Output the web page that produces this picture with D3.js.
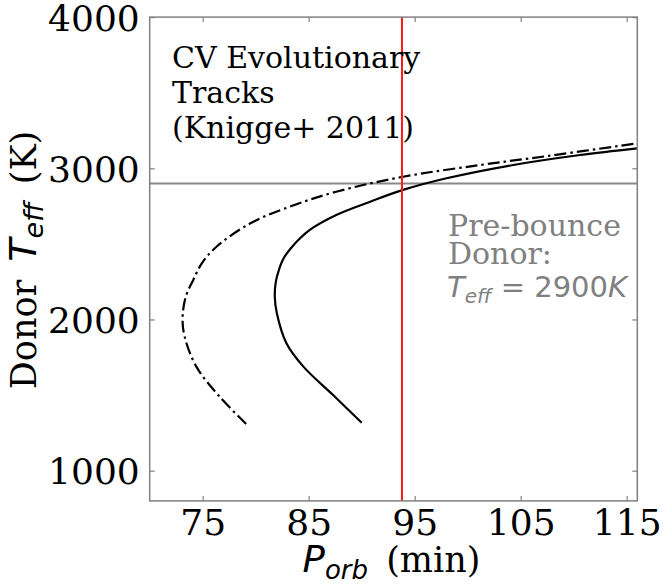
<!DOCTYPE html>
<html>
<head>
<meta charset="utf-8">
<script src="https://cdn.jsdelivr.net/npm/d3@7"></script>
<style>
  html, body { margin: 0; padding: 0; background: #fff; }
  svg { display: block; }
</style>
</head>
<body>
<div id="chart"></div>
<script>
// Knigge et al. (2011) CV evolutionary tracks: orbital period vs donor temperature
const trackStandardP = [90.0, 87.3, 84.5, 82.9, 82.0, 81.8, 81.9, 82.2, 82.6, 83.3, 85.1, 87.6, 90.8, 93.9, 98.0, 104.3, 110.6, 116.0];
const trackStandardT = [1317, 1500, 1688, 1843, 2040, 2150, 2250, 2330, 2400, 2470, 2592, 2691, 2779, 2857, 2934, 3022, 3088, 3132];

const trackOptimalP = [79.1, 76.6, 74.4, 73.3, 73.1, 73.4, 74.1, 74.9, 76.3, 79.5, 83.2, 87.6, 93.9, 101.2, 107.5, 116.0];
const trackOptimalT = [1309, 1489, 1688, 1886, 2010, 2150, 2260, 2370, 2481, 2636, 2746, 2845, 2944, 3022, 3081, 3165];

const xTicks = [75, 85, 95, 105, 115];
const yTicks = [1000, 2000, 3000, 4000];
const xDomain = [70, 116];
const yDomain = [800, 4000];

const periodLine = 93.8;     // observed orbital period (min)
const bounceTeff = 2900;     // pre-bounce donor temperature (K)

const W = 663, H = 586;
const L = 149.7, R = 637.3, T = 17.1, B = 500.9;

const svg = d3.select("#chart").append("svg")
  .attr("width", W).attr("height", H);

const x = d3.scaleLinear().domain(xDomain).range([L, R]);
const y = d3.scaleLinear().domain(yDomain).range([B, T]);

const serif = "DejaVu Serif";
const sans = "DejaVu Sans";
const spineColor = "#808080";

svg.append("defs").append("clipPath").attr("id", "plotclip")
  .append("rect").attr("x", L).attr("y", T).attr("width", R - L).attr("height", B - T);

const plot = svg.append("g").attr("clip-path", "url(#plotclip)");

// reference line at the pre-bounce temperature
plot.append("line")
  .attr("x1", L).attr("x2", R)
  .attr("y1", y(bounceTeff)).attr("y2", y(bounceTeff))
  .attr("stroke", "#888888").attr("stroke-width", 2);

// tracks
const line = d3.line()
  .x(d => x(d[0])).y(d => y(d[1]))
  .curve(d3.curveCatmullRom.alpha(0.5));

plot.append("path")
  .datum(d3.zip(trackOptimalP, trackOptimalT))
  .attr("d", line)
  .attr("fill", "none").attr("stroke", "#000")
  .attr("stroke-width", 2.2)
  .attr("stroke-dasharray", "12,4,2.5,4");

plot.append("path")
  .datum(d3.zip(trackStandardP, trackStandardT))
  .attr("d", line)
  .attr("fill", "none").attr("stroke", "#000")
  .attr("stroke-width", 2.2);

plot.append("line")
  .attr("x1", x(periodLine)).attr("x2", x(periodLine))
  .attr("y1", T).attr("y2", B)
  .attr("stroke", "#ff1a1a").attr("stroke-width", 2);

// axes with inward ticks on all four sides
const tickLen = 5;
const fmt = d3.format("d");
const styleAxis = g => {
  g.select(".domain").remove();
  g.selectAll(".tick line").attr("stroke", spineColor).attr("stroke-width", 1.2);
};

svg.append("g").attr("transform", `translate(0,${B})`)
  .call(d3.axisBottom(x).tickValues(xTicks).tickFormat(fmt).tickSizeInner(-tickLen).tickSizeOuter(0).tickPadding(7))
  .call(styleAxis)
  .call(g => g.selectAll(".tick text")
    .attr("font-family", serif).attr("font-size", 36).attr("fill", "#000").attr("dy", "0.76em"));

svg.append("g").attr("transform", `translate(0,${T})`)
  .call(d3.axisTop(x).tickValues(xTicks).tickSizeInner(-tickLen).tickSizeOuter(0).tickFormat(""))
  .call(styleAxis);

svg.append("g").attr("transform", `translate(${L},0)`)
  .call(d3.axisLeft(y).tickValues(yTicks).tickFormat(fmt).tickSizeInner(-tickLen).tickSizeOuter(0).tickPadding(10))
  .call(styleAxis)
  .call(g => g.selectAll(".tick text")
    .attr("font-family", serif).attr("font-size", 36).attr("fill", "#000").attr("dy", "0.36em"));

svg.append("g").attr("transform", `translate(${R},0)`)
  .call(d3.axisRight(y).tickValues(yTicks).tickSizeInner(-tickLen).tickSizeOuter(0).tickFormat(""))
  .call(styleAxis);

// spines
svg.append("rect")
  .attr("x", L).attr("y", T).attr("width", R - L).attr("height", B - T)
  .attr("fill", "none").attr("stroke", spineColor).attr("stroke-width", 1.5);

// axis titles
const xl = svg.append("text")
  .attr("x", (L + R) / 2 - 2).attr("y", 572)
  .attr("text-anchor", "middle").attr("font-size", 35).attr("fill", "#000");
xl.append("tspan").attr("font-family", sans).attr("font-style", "italic").attr("font-size", 37).text("P");
xl.append("tspan").attr("font-family", sans).attr("font-style", "italic")
  .attr("font-size", 26).attr("dy", 7).text("orb");
xl.append("tspan").attr("font-family", serif).attr("dy", -7).text("\u2009 (min)");

const yl = svg.append("text")
  .attr("transform", `translate(36,${(T + B) / 2 + 1}) rotate(-90)`)
  .attr("text-anchor", "middle").attr("font-size", 35).attr("fill", "#000");
yl.append("tspan").attr("font-family", serif).text("Donor\u2009 ");
yl.append("tspan").attr("font-family", sans).attr("font-style", "italic").attr("font-size", 38).text("T");
yl.append("tspan").attr("font-family", sans).attr("font-style", "italic")
  .attr("font-size", 27).attr("dy", 7).text("eff");
yl.append("tspan").attr("font-family", serif).attr("dy", -7).text("\u2009 (K)");

// annotations
const title = svg.append("text")
  .attr("font-family", serif).attr("font-size", 30).attr("fill", "#000");
["CV Evolutionary", "Tracks", "(Knigge+ 2011)"].forEach((s, i) => {
  title.append("tspan").attr("x", 172).attr("y", 68 + i * 35).text(s);
});

const note = svg.append("text")
  .attr("font-size", 30).attr("fill", "#808080");
note.append("tspan").attr("font-family", serif).attr("x", 448).attr("y", 235.5).text("Pre-bounce");
note.append("tspan").attr("font-family", serif).attr("x", 448).attr("y", 264).text("Donor:");
const mt = svg.append("text")
  .attr("x", 447).attr("y", 297)
  .attr("font-family", sans).attr("font-size", 29).attr("fill", "#808080");
mt.append("tspan").attr("font-style", "italic").text("T");
mt.append("tspan").attr("font-style", "italic").attr("font-size", 20).attr("dy", 6).text("eff");
mt.append("tspan").attr("dy", -6).text(" = 2900");
mt.append("tspan").attr("font-style", "italic").text("K");
</script>
</body>
</html>
